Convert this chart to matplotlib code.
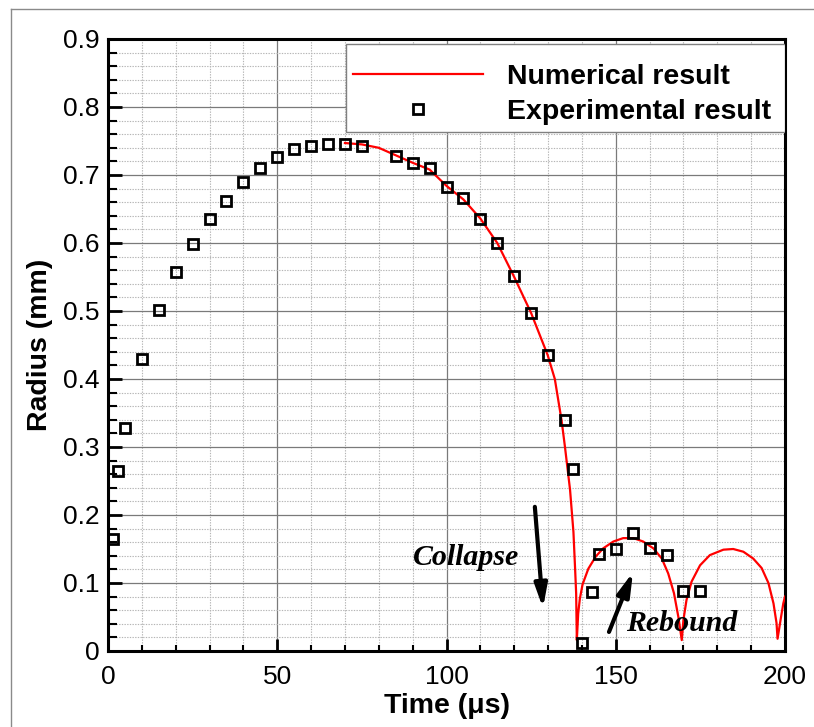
import numpy as np
import matplotlib
matplotlib.use('Agg')
import matplotlib.pyplot as plt
from matplotlib.lines import Line2D
from matplotlib.patches import Rectangle
from matplotlib.ticker import MultipleLocator

# experimental bubble radius
t_exp = [1.5, 3, 5, 10, 15, 20, 25, 30, 35, 40, 45, 50, 55, 60, 65, 70, 75,
         85, 90, 95, 100, 105, 110, 115, 120, 125, 130, 135, 137.4,
         140, 143, 145, 150, 155, 160, 165, 170, 175]
r_exp = [0.164, 0.265, 0.328, 0.429, 0.501, 0.557, 0.599, 0.635, 0.662, 0.690,
         0.711, 0.726, 0.738, 0.743, 0.746, 0.746, 0.743,
         0.728, 0.718, 0.711, 0.683, 0.666, 0.636, 0.600, 0.551, 0.497, 0.436,
         0.339, 0.267,
         0.012, 0.087, 0.143, 0.150, 0.173, 0.152, 0.141, 0.088, 0.088]

# numerical result
t_num = [70, 75, 80, 85, 90, 95, 100, 105, 110, 115, 120, 125, 129.9, 132.0,
         134.0, 135.0, 136.5, 137.5, 138.0, 138.3, 138.5,
         138.9, 139.4, 140.2, 141.9, 144.1, 146.3, 149.3, 152.2, 155.2,
         158.1, 161.1, 163.6, 165.5, 167.2, 168.5, 169.5,
         170.0, 170.9, 172.4, 174.9, 177.8, 181.8, 184.7, 187.7, 190.6,
         193.1, 195.1, 196.6, 197.5, 197.8, 198.7, 199.5, 200]
r_num = [0.747, 0.745, 0.740, 0.729, 0.718, 0.708, 0.684, 0.664, 0.636, 0.600,
         0.550, 0.497, 0.435, 0.400, 0.339, 0.300, 0.237, 0.175, 0.120, 0.085,
         0.016,
         0.055, 0.077, 0.098, 0.121, 0.139, 0.151, 0.161, 0.166, 0.166,
         0.161, 0.151, 0.136, 0.114, 0.085, 0.050, 0.016,
         0.046, 0.075, 0.102, 0.126, 0.141, 0.149, 0.150, 0.146, 0.136,
         0.122, 0.100, 0.070, 0.041, 0.018, 0.046, 0.070, 0.080]

W, H = 814, 727
fig = plt.figure(figsize=(W / 100, H / 100), dpi=100)
ax = fig.add_axes([108 / W, 1 - 651 / H, 677 / W, 612 / H])

sans = 'Liberation Sans'
serif = 'Liberation Serif'

ax.plot(t_num, r_num, color='#ff0000', lw=1.6, label='Numerical result', zorder=3)
ax.plot(t_exp, r_exp, ls='none', marker='s', ms=7.4, mew=2.0, mfc='none',
        mec='black', label='Experimental result', zorder=4, clip_on=False)

ax.set_xlim(0, 200)
ax.set_ylim(0, 0.9)
ax.xaxis.set_major_locator(MultipleLocator(50))
ax.xaxis.set_minor_locator(MultipleLocator(10))
ax.yaxis.set_major_locator(MultipleLocator(0.1))
ax.yaxis.set_minor_locator(MultipleLocator(0.02))
ax.set_xticks([0, 50, 100, 150, 200])
ax.set_xticklabels(['0', '50', '100', '150', '200'])
ax.set_yticks(np.arange(0, 10) / 10)
ax.set_yticklabels(['0', '0.1', '0.2', '0.3', '0.4', '0.5', '0.6', '0.7', '0.8', '0.9'])

ax.grid(which='major', color='#7a7a7a', lw=0.9, ls='-')
ax.grid(which='minor', color='#b5b5b5', lw=0.8, ls=(0, (1.2, 1.2)))
ax.set_axisbelow(True)

ax.tick_params(axis='y', which='major', direction='in', length=10, width=2,
               pad=6, labelsize=19)
ax.tick_params(axis='y', which='minor', direction='in', length=6.5, width=1.5)
ax.tick_params(axis='x', which='major', direction='in', length=9, width=2,
               pad=10, labelsize=19)
ax.tick_params(axis='x', which='minor', direction='in', length=4.5, width=1.5)
for lab in ax.get_xticklabels() + ax.get_yticklabels():
    lab.set_family(sans)

for s in ax.spines.values():
    s.set_linewidth(2.2)
    s.set_color('black')

ax.set_xlabel('Time (\u03bcs)', family=sans, weight='bold', fontsize=20.5)
ax.set_ylabel('Radius (mm)', family=sans, weight='bold', fontsize=20.5)
ax.xaxis.set_label_coords(0.5, (651 - 693) / 612)
ax.yaxis.set_label_coords((53 - 108) / 677, 0.5)

# legend: white box in the upper right corner, entries placed inside it
ax.add_patch(Rectangle(((346 - 108) / 677, (651 - 132) / 612),
                       (785 - 346) / 677, 88 / 612, transform=ax.transAxes,
                       facecolor='white', edgecolor='#808080', lw=1.0,
                       zorder=4.5))
leg = ax.legend(loc='upper left', bbox_to_anchor=((353 - 108) / 677, (651 - 64) / 612),
                borderaxespad=0, borderpad=0, frameon=False,
                handlelength=4.56, handletextpad=0.84, labelspacing=0.32,
                prop={'family': sans, 'weight': 'bold', 'size': 20.5})
leg.set_zorder(5)

# annotations
arrow = dict(arrowstyle='-|>,head_length=1.4,head_width=0.38',
             lw=3.0, color='black', shrinkA=0, shrinkB=0)
ax.annotate('', xy=(128.5, 0.063), xytext=(126.1, 0.212), arrowprops=arrow)
ax.annotate('', xy=(155.1, 0.116), xytext=(148.0, 0.028), arrowprops=arrow)
ax.text(105.8, 0.138, 'Collapse', family=serif, style='italic', weight='bold',
        fontsize=21.5, ha='center', va='center')
ax.text(169.6, 0.041, 'Rebound', family=serif, style='italic', weight='bold',
        fontsize=21.5, ha='center', va='center')

# thin outer frame (left and top edges visible)
fx, fy = 11 / W, 1 - 9 / H
fig.add_artist(Line2D([fx, fx], [0, fy], transform=fig.transFigure,
                      color='#8a8a8a', lw=1.0))
fig.add_artist(Line2D([fx, 1], [fy, fy], transform=fig.transFigure,
                      color='#8a8a8a', lw=1.0))

fig.savefig('out.png', dpi=100)
